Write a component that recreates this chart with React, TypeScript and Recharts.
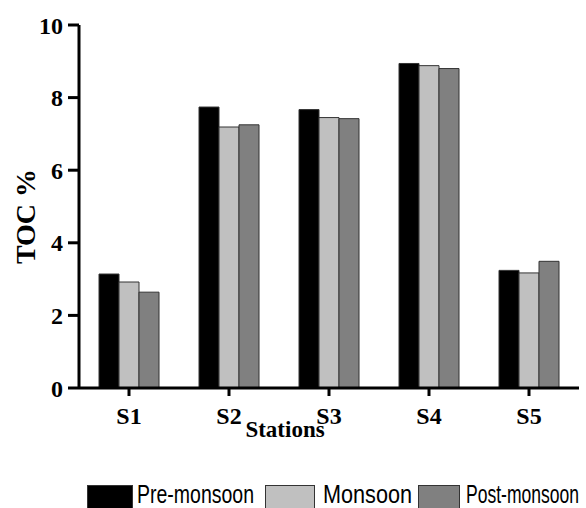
import React from "react";
import {
  BarChart,
  Bar,
  XAxis,
  YAxis,
  Legend,
  Label,
} from "recharts";

const stations = ["S1", "S2", "S3", "S4", "S5"];
const preMonsoon = [3.14, 7.74, 7.67, 8.94, 3.24];
const monsoon = [2.92, 7.19, 7.45, 8.88, 3.17];
const postMonsoon = [2.64, 7.25, 7.42, 8.8, 3.49];
const yTicks = [0, 2, 4, 6, 8, 10];

const SERIES = [
  { key: "pre", name: "Pre-monsoon", fill: "#000000" },
  { key: "mon", name: "Monsoon", fill: "#c0c0c0" },
  { key: "post", name: "Post-monsoon", fill: "#808080" },
];

// legend swatch / label placement (x, swatch width, label x, label width)
const LEGEND_SLOTS = [
  { sx: 87, sw: 46, tx: 137, tw: 117 },
  { sx: 265, sw: 50, tx: 323, tw: 89 },
  { sx: 418, sw: 42, tx: 466, tw: 113 },
];

const data = stations.map((s, i) => ({
  station: s,
  pre: preMonsoon[i],
  mon: monsoon[i],
  post: postMonsoon[i],
}));

const SERIF = "'Liberation Serif', 'Times New Roman', serif";
const TICK = { fill: "#000", fontFamily: SERIF, fontSize: 24, fontWeight: 700 };
const AXIS_LINE = { stroke: "#000", strokeWidth: 3 };
const LEGEND_H = 29;

function LegendRow() {
  return (
    <svg width={586} height={LEGEND_H} style={{ display: "block" }}>
      {SERIES.map((s, i) => {
        const slot = LEGEND_SLOTS[i];
        return (
          <g key={s.key}>
            <rect
              x={slot.sx + 0.5}
              y={6.5}
              width={slot.sw - 1}
              height={24}
              fill={s.fill}
              stroke="#333"
              strokeWidth={1}
            />
            <text
              x={slot.tx}
              y={23.5}
              textLength={slot.tw}
              lengthAdjust="spacingAndGlyphs"
              fontFamily="'Liberation Sans', Arial, sans-serif"
              fontSize={25}
              fill="#000"
            >
              {s.name}
            </text>
          </g>
        );
      })}
    </svg>
  );
}

export default function App() {
  return (
    <div style={{ position: "absolute", left: 0, top: 0, background: "#fff" }}>
      <BarChart
        width={586}
        height={508}
        data={data}
        margin={{ top: 25, right: 7, left: 0, bottom: 0 }}
        barCategoryGap="20%"
        barGap={0}
      >
        <XAxis
          dataKey="station"
          height={91}
          tick={TICK}
          tickSize={8}
          tickMargin={11}
          tickLine={{ stroke: "#000", strokeWidth: 3 }}
          axisLine={AXIS_LINE}
        >
          <Label
            content={({ viewBox }: any) => (
              <text
                x={viewBox.x + viewBox.width / 2 - 44}
                y={437}
                textAnchor="middle"
                fontFamily={SERIF}
                fontSize={23}
                fontWeight={700}
                fill="#000"
              >
                Stations
              </text>
            )}
          />
        </XAxis>
        <YAxis
          type="number"
          domain={[0, 10]}
          ticks={yTicks}
          width={79}
          tick={TICK}
          tickSize={11}
          tickMargin={5}
          tickLine={{ stroke: "#000", strokeWidth: 3 }}
          axisLine={AXIS_LINE}
        >
          <Label
            content={({ viewBox }: any) => {
              const cx = 25;
              const cy = viewBox.y + viewBox.height / 2 + 10;
              return (
                <text
                  x={cx}
                  y={cy}
                  transform={`rotate(-90, ${cx}, ${cy})`}
                  textAnchor="middle"
                  dominantBaseline="central"
                  fontFamily={SERIF}
                  fontSize={28}
                  fontWeight={700}
                  fill="#000"
                >
                  TOC %
                </text>
              );
            }}
          />
        </YAxis>
        <Legend
          verticalAlign="bottom"
          align="left"
          height={LEGEND_H}
          wrapperStyle={{ left: 0, width: 586 }}
          content={() => <LegendRow />}
        />
        {SERIES.map((s) => (
          <Bar
            key={s.key}
            dataKey={s.key}
            name={s.name}
            fill={s.fill}
            stroke="#333"
            strokeWidth={1}
            isAnimationActive={false}
          />
        ))}
      </BarChart>
    </div>
  );
}
